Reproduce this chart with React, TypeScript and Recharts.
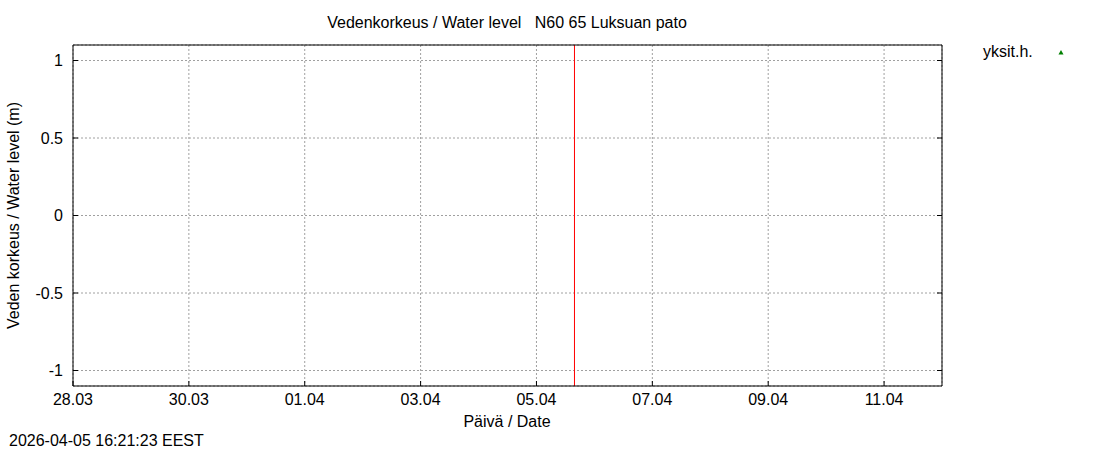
import React from 'react';
import {
  ComposedChart,
  XAxis,
  YAxis,
  CartesianGrid,
  ReferenceLine,
  Scatter,
  Legend,
} from 'recharts';

const FONT = '"Liberation Sans", Arial, Helvetica, sans-serif';

// X axis: days since 28.03
const dateTicks = [0, 2, 4, 6, 8, 10, 12, 14];
const dateLabels = ['28.03', '30.03', '01.04', '03.04', '05.04', '07.04', '09.04', '11.04'];
const dateDomain = [0, 15];

// Y axis: water level (m)
const levelTicks = [-1, -0.5, 0, 0.5, 1];
const levelLabels = ['-1', '-0.5', '0', '0.5', '1'];
const levelDomain = [-1.1, 1.1];

// Series (no observations in the period)
const seriesName = 'yksit.h.';
const levelData: { day: number; level: number }[] = [];

// Current time marker
const nowDay = 8.656;

const titleText = 'Vedenkorkeus / Water level   N60 65 Luksuan pato';
const yLabelText = 'Veden korkeus / Water level (m)';
const xLabelText = 'Päivä / Date';
const timestampText = '2026-04-05 16:21:23 EEST';

const GREEN = '#008000';

const labelFor = (ticks: number[], labels: string[], v: number) => {
  const i = ticks.findIndex((t) => Math.abs(t - v) < 1e-9);
  return i >= 0 ? labels[i] : String(v);
};

const BottomTick = (props: any) => {
  const { x, y, payload } = props;
  return (
    <g>
      <line x1={x} x2={x} y1={y} y2={y - 5} stroke="#000" strokeWidth={1} />
      <text x={x} y={y + 19} textAnchor="middle" fontSize={16} fontFamily={FONT} fill="#000">
        {labelFor(dateTicks, dateLabels, payload.value)}
      </text>
    </g>
  );
};

const TopTick = (props: any) => {
  const { x, y } = props;
  return <line x1={x} x2={x} y1={y} y2={y + 5} stroke="#000" strokeWidth={1} />;
};

const LeftTick = (props: any) => {
  const { x, y, payload } = props;
  return (
    <g>
      <line x1={x} x2={x + 5} y1={y} y2={y} stroke="#000" strokeWidth={1} />
      <text x={x - 10} y={y + 5.5} textAnchor="end" fontSize={16} fontFamily={FONT} fill="#000">
        {labelFor(levelTicks, levelLabels, payload.value)}
      </text>
    </g>
  );
};

const RightTick = (props: any) => {
  const { x, y } = props;
  return <line x1={x} x2={x - 5} y1={y} y2={y} stroke="#000" strokeWidth={1} />;
};

const Triangle = (props: any) => {
  const { cx, cy } = props;
  if (cx == null || cy == null) return null;
  return <path d={`M${cx - 2.5},${cy + 2} L${cx + 2.5},${cy + 2} L${cx},${cy - 2.5} Z`} fill={GREEN} />;
};

const LegendContent = (props: any) => {
  const items = (props.payload || []) as any[];
  return (
    <svg width={125} height={24 * Math.max(items.length, 1)} style={{ display: 'block' }}>
      {items.map((entry, i) => (
        <g key={i} transform={`translate(0, ${i * 24})`}>
          <text x={8} y={15} fontSize={16} fontFamily={FONT} fill="#000">
            {entry.value}
          </text>
          <path d="M83.5,12.5 L88.5,12.5 L86,8 Z" fill={entry.color || GREEN} />
        </g>
      ))}
    </svg>
  );
};

export default function App() {
  return (
    <div style={{ position: 'absolute', left: 0, top: 0, width: 1100, height: 450, background: '#fff' }}>
      <ComposedChart
        width={1100}
        height={450}
        data={levelData}
        margin={{ top: 44, right: 157, bottom: 63, left: 72 }}
      >
        <CartesianGrid stroke="#a0a0a0" strokeDasharray="2 2" />
        <XAxis
          dataKey="day"
          type="number"
          domain={dateDomain}
          ticks={dateTicks}
          allowDataOverflow
          height={1}
          tickSize={0}
          tickMargin={0}
          tickLine={false}
          axisLine={{ stroke: '#000', strokeWidth: 1 }}
          tick={<BottomTick />}
          interval={0}
        />
        <XAxis
          xAxisId="top"
          orientation="top"
          type="number"
          domain={dateDomain}
          ticks={dateTicks}
          allowDataOverflow
          height={1}
          tickSize={0}
          tickMargin={0}
          tickLine={false}
          axisLine={{ stroke: '#000', strokeWidth: 1 }}
          tick={<TopTick />}
          interval={0}
        />
        <YAxis
          dataKey="level"
          type="number"
          domain={levelDomain}
          ticks={levelTicks}
          allowDataOverflow
          width={1}
          tickSize={0}
          tickMargin={0}
          tickLine={false}
          axisLine={{ stroke: '#000', strokeWidth: 1 }}
          tick={<LeftTick />}
          interval={0}
        />
        <YAxis
          yAxisId="right"
          orientation="right"
          type="number"
          domain={levelDomain}
          ticks={levelTicks}
          allowDataOverflow
          width={1}
          tickSize={0}
          tickMargin={0}
          tickLine={false}
          axisLine={{ stroke: '#000', strokeWidth: 1 }}
          tick={<RightTick />}
          interval={0}
        />
        <ReferenceLine x={nowDay} stroke="#ff0000" strokeWidth={1} ifOverflow="extendDomain" />
        <Scatter
          name={seriesName}
          data={levelData}
          dataKey="level"
          fill={GREEN}
          shape={<Triangle />}
          isAnimationActive={false}
        />
        <Legend
          layout="vertical"
          align="center"
          verticalAlign="middle"
          content={<LegendContent />}
          wrapperStyle={{ position: 'absolute', left: 975, top: 42, width: 125 }}
        />
      </ComposedChart>
      <svg
        width={1100}
        height={450}
        style={{ position: 'absolute', left: 0, top: 0, pointerEvents: 'none' }}
      >
        <text x={507} y={28} textAnchor="middle" fontSize={16} fontFamily={FONT} fill="#000" style={{ whiteSpace: 'pre' }}>
          {titleText}
        </text>
        <text
          x={0}
          y={0}
          transform="translate(18.5, 215.5) rotate(-90)"
          textAnchor="middle"
          fontSize={16}
          fontFamily={FONT}
          fill="#000"
        >
          {yLabelText}
        </text>
        <text x={507} y={427} textAnchor="middle" fontSize={16} fontFamily={FONT} fill="#000">
          {xLabelText}
        </text>
        <text x={9} y={446} fontSize={16} fontFamily={FONT} fill="#000">
          {timestampText}
        </text>
      </svg>
    </div>
  );
}
